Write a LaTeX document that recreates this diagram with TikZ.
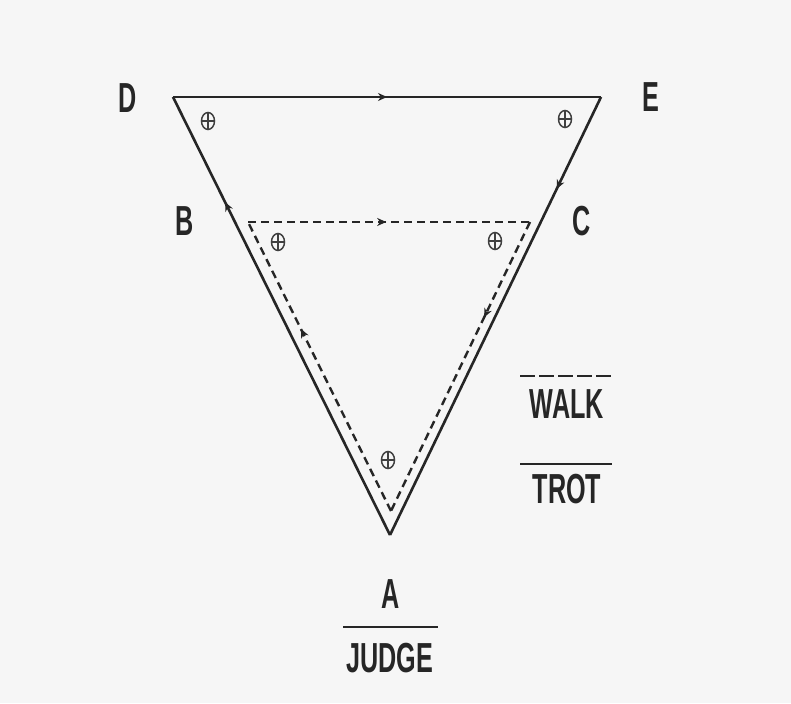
\documentclass[tikz,border=0pt]{standalone}
\usepackage{fontspec}
\newfontfamily\lblfont{Liberation Sans}[FakeStretch=0.6]
\usetikzlibrary{positioning, calc, arrows.meta, decorations.markings, shapes.geometric}

\begin{document}
\begin{tikzpicture}[x=1pt,y=-1pt]
	 \tikzstyle{lbl}=[inner sep=0pt, anchor=base, text=black!85, font=\lblfont\bfseries\fontsize{42}{42}\selectfont]
	 \tikzstyle{trot} = [draw,line width=2.6pt,black!85]
	 \tikzstyle{walk} = [draw,line width=2.4pt,black!85,dash pattern=on 8pt off 5pt]
	 \tikzstyle{halt}=[ellipse,draw,black!75,line width=1.5pt,minimum width=13pt,minimum height=17pt,inner sep=0pt,
	   path picture={\draw[black!75,line width=1.3pt] (path picture bounding box.north) -- (path picture bounding box.south);
	                 \draw[black!75,line width=1.3pt] (path picture bounding box.west) -- (path picture bounding box.east);}]
	 \tikzset{arr/.style={postaction={decorate},decoration={markings,
	   mark=at position #1 with {\arrow[black!85]{Stealth[length=9pt,width=8pt]}}}}}
	 % background
	 \fill[white!96.5!black] (0,0) rectangle (791,703);
	 \useasboundingbox (0,0) rectangle (791,703);
	 % trot course
	 \coordinate (d) at (173,97);
	 \coordinate (e) at (601,97);
	 \coordinate (a) at (390,535);
	 % walk course
	 \coordinate (bw) at (248,222);
	 \coordinate (cw) at (530,222);
	 \coordinate (aw) at (391,511);
	 \draw[trot,arr=0.5] (d) -- (e);
	 \draw[trot,arr=0.21] (e) -- (a);
	 \draw[trot,arr=0.76] (a) -- (d);
	 \draw[walk,arr=0.49] (bw) -- (cw);
	 \draw[walk,arr=0.33] (cw) -- (aw);
	 \draw[walk,arr=0.63] (aw) -- (bw);
	 % halts
	 \node[halt] (h1) at (208,121) {};
	 \node[halt] (h2) at (565,119) {};
	 \node[halt] (h3) at (278,242) {};
	 \node[halt] (h4) at (495,241) {};
	 \node[halt] (h5) at (388,460) {};
	 % letters
	 \node[lbl] (ld) at (128,113) {D};
	 \node[lbl] (le) at (651,112) {E};
	 \node[lbl] (lb) at (185,235) {B};
	 \node[lbl] (lc) at (582,235) {C};
	 \node[lbl] (la) at (391,608) {A};
	 \node[lbl] (lj) at (390,672) {JUDGE};
	 \coordinate (j1) at (343,627);
	 \coordinate (j2) at (438,627);
	 \draw[trot] (j1) -- (j2);
	 % key
	 \coordinate (w1) at (520,376);
	 \coordinate (w2) at (612,376);
	 \coordinate (t1) at (520,464);
	 \coordinate (t2) at (612,464);
	 \draw[walk,dash pattern=on 15pt off 4pt] (w1) -- (w2);
	 \draw[trot] (t1) -- (t2);
	 \node[lbl] (lw) at (567,418) {WALK};
	 \node[lbl] (lt) at (567,503) {TROT};
 \end{tikzpicture}
\end{document}
